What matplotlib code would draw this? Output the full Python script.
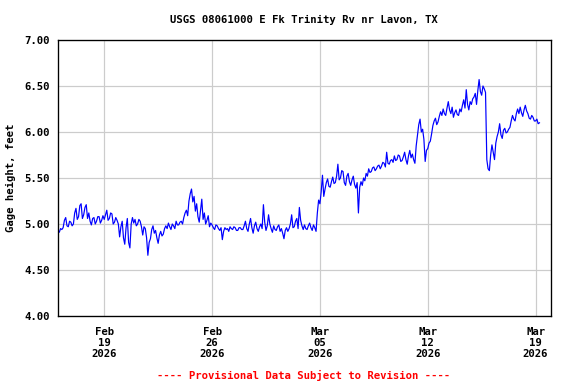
import matplotlib
matplotlib.use("Agg")
import matplotlib.pyplot as plt
import pandas as pd
import datetime as dt

# gage height readings every 2 hours from 2026-02-16 00:00
gage_ft = [
    4.93, 4.91, 4.95, 4.94, 4.96, 5.04, 5.07, 4.98, 4.97, 5.03, 5.02, 4.98,   # Feb 16
    5.00, 5.12, 5.17, 5.05, 5.08, 5.20, 5.22, 5.06, 5.10, 5.18, 5.21, 5.06,   # Feb 17
    5.12, 5.03, 4.99, 5.06, 5.07, 5.00, 5.03, 5.08, 5.08, 5.01, 5.04, 5.09,   # Feb 18
    5.05, 5.10, 5.15, 5.04, 5.06, 5.12, 5.11, 5.00, 5.02, 5.07, 5.04, 5.00,   # Feb 19
    4.86, 4.97, 5.03, 4.85, 4.78, 4.96, 5.06, 4.80, 4.74, 5.00, 5.07, 5.01,   # Feb 20
    5.05, 4.98, 5.00, 5.05, 5.03, 4.97, 4.88, 4.97, 4.95, 4.85, 4.66, 4.80,   # Feb 21
    4.84, 4.94, 4.98, 4.90, 4.93, 4.85, 4.79, 4.88, 4.92, 4.87, 4.89, 4.95,   # Feb 22
    4.98, 4.95, 5.01, 4.97, 4.94, 5.00, 4.98, 4.95, 5.03, 4.99, 4.99, 5.02,   # Feb 23
    5.03, 5.00, 5.07, 5.12, 5.15, 5.09, 5.25, 5.33, 5.38, 5.24, 5.30, 5.14,   # Feb 24
    5.22, 5.08, 5.02, 5.15, 5.27, 5.05, 5.12, 5.00, 5.04, 5.09, 4.97, 5.01,   # Feb 25
    4.99, 4.96, 4.94, 4.99, 4.98, 4.95, 4.93, 4.96, 4.83, 4.92, 4.96, 4.94,   # Feb 26
    4.95, 4.92, 4.97, 4.95, 4.94, 4.97, 4.96, 4.93, 4.93, 4.96, 4.96, 4.94,   # Feb 27
    4.94, 4.98, 5.03, 4.95, 4.92, 5.00, 5.06, 4.96, 4.90, 4.98, 5.02, 4.95,   # Feb 28
    4.92, 4.97, 5.00, 4.95, 5.21, 5.02, 4.93, 4.98, 5.10, 5.00, 4.95, 4.91,   # Mar 01
    4.98, 4.94, 4.93, 4.97, 4.99, 4.92, 4.95, 4.90, 4.84, 4.93, 4.96, 4.92,   # Mar 02
    4.95, 5.00, 5.10, 4.96, 4.97, 5.03, 5.06, 4.95, 5.18, 5.04, 4.98, 4.94,   # Mar 03
    4.99, 4.95, 4.94, 4.98, 5.01, 4.96, 4.93, 4.99, 4.96, 4.92, 5.12, 5.26,   # Mar 04
    5.22, 5.35, 5.53, 5.30, 5.38, 5.45, 5.49, 5.41, 5.40, 5.46, 5.51, 5.44,   # Mar 05
    5.45, 5.52, 5.65, 5.48, 5.50, 5.58, 5.57, 5.45, 5.42, 5.52, 5.55, 5.46,   # Mar 06
    5.42, 5.48, 5.52, 5.43, 5.39, 5.45, 5.12, 5.40, 5.46, 5.42, 5.50, 5.47,   # Mar 07
    5.55, 5.52, 5.60, 5.56, 5.57, 5.61, 5.62, 5.58, 5.60, 5.63, 5.64, 5.60,   # Mar 08
    5.63, 5.67, 5.66, 5.62, 5.78, 5.66, 5.65, 5.69, 5.70, 5.67, 5.74, 5.69,   # Mar 09
    5.70, 5.75, 5.74, 5.68, 5.69, 5.73, 5.78, 5.70, 5.65, 5.74, 5.80, 5.72,   # Mar 10
    5.76, 5.70, 5.66, 5.85, 5.97, 6.08, 6.14, 6.00, 6.03, 5.92, 5.68, 5.80,   # Mar 11
    5.82, 5.88, 5.90, 5.98, 6.07, 6.12, 6.15, 6.08, 6.11, 6.17, 6.22, 6.18,   # Mar 12
    6.25, 6.20, 6.18, 6.26, 6.33, 6.24, 6.20, 6.27, 6.16, 6.21, 6.24, 6.19,   # Mar 13
    6.18, 6.25, 6.22, 6.29, 6.35, 6.26, 6.46, 6.30, 6.24, 6.33, 6.30, 6.36,   # Mar 14
    6.38, 6.42, 6.30, 6.45, 6.57, 6.44, 6.40, 6.50, 6.47, 6.43, 5.70, 5.60,   # Mar 15
    5.58, 5.75, 5.86, 5.78, 5.70, 5.88, 5.95, 6.00, 6.09, 5.97, 5.93, 6.02,   # Mar 16
    6.04, 5.99, 6.00, 6.03, 6.05, 6.12, 6.18, 6.14, 6.12, 6.20, 6.25, 6.20,   # Mar 17
    6.27, 6.21, 6.17, 6.24, 6.29, 6.23, 6.20, 6.15, 6.14, 6.18, 6.16, 6.12,   # Mar 18
    6.12, 6.14, 6.09, 6.10,                                                   # Mar 19
]
times = pd.date_range("2026-02-16 00:00", periods=len(gage_ft), freq="2h")

tick_dates = ["2026-02-19", "2026-02-26", "2026-03-05", "2026-03-12", "2026-03-19"]
y_ticks = [4.0, 4.5, 5.0, 5.5, 6.0, 6.5, 7.0]

font = "DejaVu Sans Mono"
fs = 8

fig = plt.figure(figsize=(6, 4), dpi=96)
ax = fig.add_axes([58 / 576, 1 - 316 / 384, 493 / 576, 276 / 384])

ax.plot(times, gage_ft, color="#0000ff", linewidth=0.9)

ax.set_xlim(dt.datetime(2026, 2, 16), dt.datetime(2026, 3, 20))
ax.set_ylim(4.0, 7.0)
ax.set_yticks(y_ticks)
ax.set_yticklabels([f"{v:.2f}" for v in y_ticks], fontfamily=font, fontweight="bold", fontsize=fs)
xt = [pd.Timestamp(d) for d in tick_dates]
ax.set_xticks(xt)
ax.set_xticklabels([d.strftime("%b\n%d\n%Y") for d in xt], fontfamily=font, fontweight="bold",
                   fontsize=fs, linespacing=1.15)
ax.tick_params(length=0, pad=6)
ax.tick_params(axis="x", pad=8)
ax.grid(True, color="#cccccc", linewidth=0.9)
ax.set_axisbelow(True)
for s in ax.spines.values():
    s.set_linewidth(1.0)
    s.set_color("black")

ax.set_ylabel("Gage height, feet", fontfamily=font, fontweight="bold", fontsize=fs, labelpad=6)
fig.text(304 / 576, 1 - 20 / 384, "USGS 08061000 E Fk Trinity Rv nr Lavon, TX", ha="center", va="center",
         fontfamily=font, fontweight="bold", fontsize=fs)
fig.text(304 / 576, 1 - 375 / 384, "---- Provisional Data Subject to Revision ----", ha="center", va="center",
         fontfamily=font, fontweight="bold", fontsize=fs, color="#ff0000")

fig.savefig("out.png", dpi=96)
